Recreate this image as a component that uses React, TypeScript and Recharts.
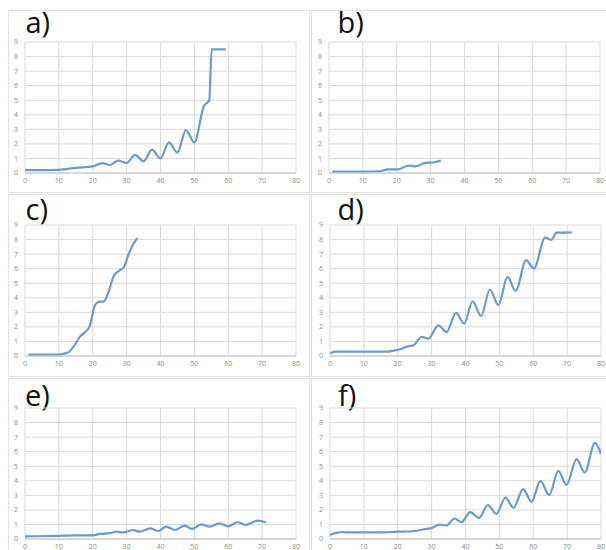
import { LineChart, Line, XAxis, YAxis, CartesianGrid } from "recharts";

type Pair = [number, number];

// tick values shared by every panel
const xTicks = [0, 10, 20, 30, 40, 50, 60, 70, 80];
const yTicks = [0, 1, 2, 3, 4, 5, 6, 7, 8, 9];

// [x, y] readings per panel
const curveA: Pair[] = [
  [0, 0.2], [5, 0.2], [10, 0.22], [15, 0.35], [20, 0.45], [22.8, 0.68], [25, 0.55],
  [27.5, 0.85], [30, 0.7], [32.5, 1.25], [35, 0.8], [37.5, 1.6], [40, 1.0],
  [42.5, 2.1], [45, 1.4], [47.5, 2.95], [50, 2.1], [52.8, 4.6], [54.4, 5.0],
  [55.1, 8.5], [59.3, 8.5],
];

const curveB: Pair[] = [
  [1, 0.1], [5, 0.1], [10, 0.1], [15, 0.12], [17.5, 0.25], [20.5, 0.25],
  [22.5, 0.45], [24, 0.5], [25.5, 0.45], [28.5, 0.7], [30.5, 0.72], [33, 0.85],
];

const curveC: Pair[] = [
  [1, 0.1], [5, 0.1], [10, 0.1], [12.8, 0.25], [14.5, 0.7], [16.3, 1.35],
  [17.8, 1.65], [19, 2.0], [20.7, 3.5], [21.7, 3.72], [23.3, 3.75], [24.5, 4.3],
  [26.2, 5.5], [27.7, 5.85], [29.2, 6.1], [30.6, 7.0], [32.1, 7.75], [33.2, 8.1],
];

const curveD: Pair[] = [
  [0, 0.18], [1.5, 0.3], [10, 0.3], [17, 0.3], [18.5, 0.35], [20.7, 0.46],
  [23.1, 0.67], [24.6, 0.73], [27.1, 1.31], [29, 1.19], [32, 2.1], [34.4, 1.65],
  [37.2, 2.96], [39.6, 2.23], [42.1, 3.76], [44.6, 2.75], [47.2, 4.57],
  [49.7, 3.49], [52.4, 5.44], [54.8, 4.48], [57.9, 6.59], [60.2, 6.01],
  [63.5, 8.13], [65.3, 7.97], [66.9, 8.47], [71.4, 8.5],
];

const curveE: Pair[] = [
  [0, 0.18], [10, 0.22], [15, 0.25], [20, 0.25], [22, 0.35], [25, 0.4],
  [27, 0.5], [29, 0.45], [31.9, 0.62], [33.9, 0.5], [37, 0.73], [39.3, 0.55],
  [41.7, 0.85], [44.2, 0.62], [47.1, 0.92], [49.4, 0.69], [52, 1.01],
  [54.5, 0.85], [57.4, 1.08], [59.9, 0.87], [62.8, 1.15], [65.1, 0.97],
  [68.7, 1.26], [71.1, 1.15],
];

const curveF: Pair[] = [
  [0, 0.28], [1.8, 0.42], [4, 0.48], [5, 0.45], [15, 0.45], [20, 0.5],
  [25, 0.55], [28.4, 0.69], [30, 0.75], [32.3, 0.99], [34.3, 0.93],
  [36.8, 1.41], [38.8, 1.15], [41.4, 1.85], [44, 1.45], [46.6, 2.33],
  [49.1, 1.73], [51.8, 2.84], [54.2, 2.15], [57, 3.42], [59.5, 2.56],
  [62.1, 3.99], [64.7, 3.02], [67.4, 4.68], [69.8, 3.72], [72.8, 5.49],
  [75.2, 4.57], [78.2, 6.6], [80, 5.85],
];

const PLOT_W = 271;
const PLOT_H = 131;
const Y_AXIS_W = 22;
const X_AXIS_H = 16;
const M_TOP = 6;
const M_RIGHT = 8;

const tickStyle = { fontSize: 7, fill: "#8c8c8c", fontFamily: "Open Sans" };

interface PanelProps {
  label: string;
  curve: Pair[];
  plotLeft: number;
  plotTop: number;
  labelLeft: number;
  labelBaseline: number;
  box: { left: number; top: number; width: number; height: number };
}

function Panel({ label, curve, plotLeft, plotTop, labelLeft, labelBaseline, box }: PanelProps) {
  const data = curve.map(([x, y]) => ({ x, y }));
  return (
    <>
      <div
        style={{
          position: "absolute",
          left: box.left,
          top: box.top,
          width: box.width,
          height: box.height,
          border: "1px solid #e2e2e2",
          boxSizing: "border-box",
        }}
      />
      <div
        style={{
          position: "absolute",
          left: labelLeft,
          top: labelBaseline - 26,
          fontFamily: "Open Sans",
          fontSize: 29,
          lineHeight: "29px",
          color: "#111",
        }}
      >
        {label}
      </div>
      <div style={{ position: "absolute", left: plotLeft - Y_AXIS_W, top: plotTop - M_TOP }}>
        <LineChart
          width={Y_AXIS_W + PLOT_W + M_RIGHT}
          height={M_TOP + PLOT_H + X_AXIS_H}
          data={data}
          margin={{ top: M_TOP, right: M_RIGHT, bottom: 0, left: 0 }}
        >
          <CartesianGrid stroke="#d9d9d9" />
          <XAxis
            dataKey="x"
            type="number"
            domain={[0, 80]}
            ticks={xTicks}
            interval={0}
            allowDataOverflow
            height={X_AXIS_H}
            axisLine={{ stroke: "#c4c4c4" }}
            tickLine={false}
            tickSize={0}
            tickMargin={5}
            tick={tickStyle}
          />
          <YAxis
            type="number"
            domain={[0, 9]}
            ticks={yTicks}
            interval={0}
            width={Y_AXIS_W}
            axisLine={false}
            tickLine={false}
            tickSize={0}
            tickMargin={7}
            tick={tickStyle}
          />
          <Line
            type="monotone"
            dataKey="y"
            stroke="#6a9bd2"
            strokeWidth={2.2}
            dot={false}
            isAnimationActive={false}
          />
        </LineChart>
      </div>
    </>
  );
}

export default function App() {
  return (
    <div
      style={{
        position: "fixed",
        left: 0,
        top: 0,
        width: 606,
        height: 550,
        overflow: "hidden",
        background: "#fff",
      }}
    >
      <Panel label="a)" curve={curveA} plotLeft={25} plotTop={42} labelLeft={25.5} labelBaseline={33}
        box={{ left: 8, top: 10, width: 302, height: 183 }} />
      <Panel label="b)" curve={curveB} plotLeft={329} plotTop={42} labelLeft={337.5} labelBaseline={33}
        box={{ left: 311, top: 10, width: 300, height: 183 }} />
      <Panel label="c)" curve={curveC} plotLeft={25} plotTop={225} labelLeft={25.5} labelBaseline={220}
        box={{ left: 8, top: 194, width: 302, height: 183 }} />
      <Panel label="d)" curve={curveD} plotLeft={330} plotTop={225} labelLeft={337.5} labelBaseline={220}
        box={{ left: 311, top: 194, width: 300, height: 183 }} />
      <Panel label="e)" curve={curveE} plotLeft={25} plotTop={408} labelLeft={25} labelBaseline={406}
        box={{ left: 8, top: 378, width: 302, height: 190 }} />
      <Panel label="f)" curve={curveF} plotLeft={330} plotTop={408} labelLeft={338} labelBaseline={406}
        box={{ left: 311, top: 378, width: 300, height: 190 }} />
    </div>
  );
}
